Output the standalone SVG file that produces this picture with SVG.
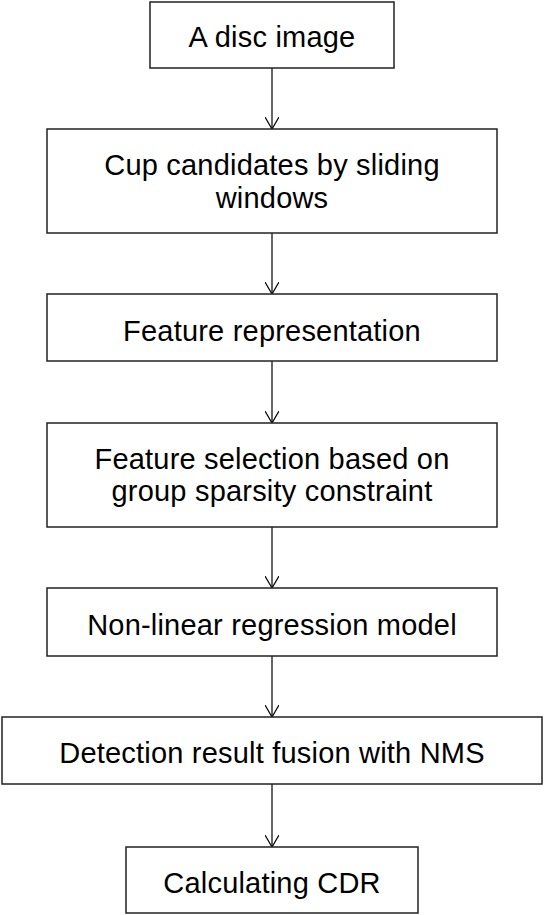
<svg xmlns="http://www.w3.org/2000/svg" width="544" height="915" viewBox="0 0 544 915">
<defs>
<style>
.box{fill:#fff;stroke:#222;stroke-width:1.5}
.t{font-family:"Liberation Sans",Arial,sans-serif;font-size:29px;fill:#000;text-anchor:middle;letter-spacing:0.2px}
.c{stroke:#000;stroke-width:1.2;fill:none}
</style>
<marker id="ah" viewBox="0 0 12 14" refX="12" refY="7" markerWidth="12" markerHeight="14" markerUnits="userSpaceOnUse" orient="auto">
<path d="M0,0 L12,7 L0,14" fill="none" stroke="#000" stroke-width="1.2"/>
</marker>
</defs>
<rect width="544" height="915" fill="#fff"/>
<g id="connectors">
<line class="c" x1="272" y1="68" x2="272" y2="129" marker-end="url(#ah)"/>
<line class="c" x1="272" y1="233" x2="272" y2="294" marker-end="url(#ah)"/>
<line class="c" x1="272" y1="361" x2="272" y2="423" marker-end="url(#ah)"/>
<line class="c" x1="272" y1="527" x2="272" y2="588" marker-end="url(#ah)"/>
<line class="c" x1="272" y1="656" x2="272" y2="717" marker-end="url(#ah)"/>
<line class="c" x1="272" y1="784" x2="272" y2="847" marker-end="url(#ah)"/>
</g>
<g id="n1"><rect class="box" x="150" y="2" width="244" height="66"/><text class="t" x="272" y="47">A disc image</text></g>
<g id="n2"><rect class="box" x="47" y="129" width="450" height="104"/><text class="t" x="272" y="175">Cup candidates by sliding</text><text class="t" x="272" y="208">windows</text></g>
<g id="n3"><rect class="box" x="47" y="294" width="450" height="67"/><text class="t" x="272" y="341">Feature representation</text></g>
<g id="n4"><rect class="box" x="47" y="423" width="450" height="104"/><text class="t" x="272" y="469">Feature selection based on</text><text class="t" x="272" y="501">group sparsity constraint</text></g>
<g id="n5"><rect class="box" x="47" y="588" width="450" height="68"/><text class="t" x="272" y="635">Non-linear regression model</text></g>
<g id="n6"><rect class="box" x="2" y="717" width="540" height="67"/><text class="t" x="272" y="763">Detection result fusion with NMS</text></g>
<g id="n7"><rect class="box" x="126" y="847" width="292" height="66"/><text class="t" x="272" y="893">Calculating CDR</text></g>
</svg>
